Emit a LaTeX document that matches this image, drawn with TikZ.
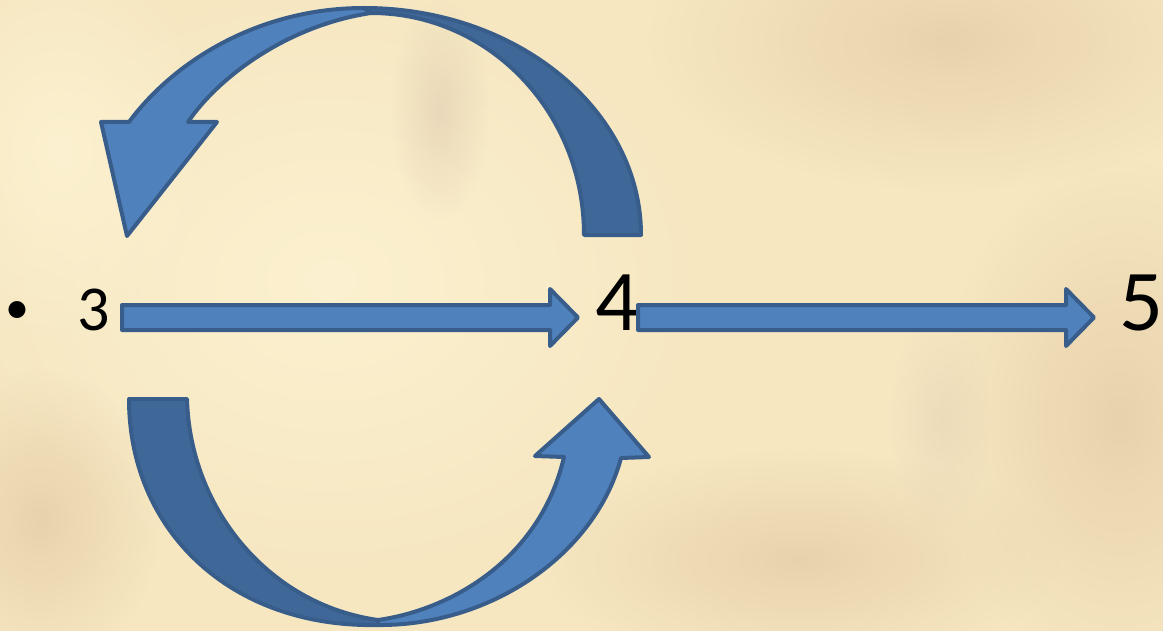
\documentclass[tikz,border=0pt]{standalone}
\usepackage{fontspec}
\setmainfont{Carlito}
\usetikzlibrary{fadings}
\tikzfading[name=softblob, inner color=transparent!0, outer color=transparent!100]
\definecolor{bgbase}{HTML}{F6E7C1}
\definecolor{bglight}{HTML}{FCF1D0}
\definecolor{bgtan}{HTML}{E8D2AC}
\definecolor{bgmauve}{HTML}{D8C2AA}
\definecolor{lightblue}{HTML}{4F81BD}
\definecolor{darkblue}{HTML}{3F6899}
\definecolor{edgeblue}{HTML}{385D8A}
\tikzset{
  lightpart/.style={fill=lightblue, draw=edgeblue, line width=3pt, line join=round},
  darkpart/.style={fill=darkblue, draw=edgeblue, line width=3pt, line join=round},
  blob/.style={path fading=softblob, fit fading=true},
  bigdigit/.style={anchor=base, inner sep=0pt, font=\fontsize{65}{70}\selectfont},
  smalldigit/.style={anchor=base, inner sep=0pt, font=\fontsize{48}{52}\selectfont},
  bulletmark/.style={anchor=base, inner sep=0pt, font=\fontsize{36}{40}\selectfont}
}
\begin{document}
\begin{tikzpicture}[x=0.75pt,y=-0.75pt]
\useasboundingbox (0,0) rectangle (1163,631);
% background
\fill[bgbase] (0,0) rectangle (1163,631);
\fill[bglight, blob] (330,280) ellipse (380 and 300);
\fill[bglight, blob] (60,150) ellipse (160 and 200);
\fill[bgtan, blob] (950,40) ellipse (300 and 150);
\fill[bgtan, blob] (1120,420) ellipse (180 and 260);
\fill[bgtan, blob] (40,520) ellipse (120 and 150);
\fill[bgtan, blob] (800,560) ellipse (260 and 110);
\fill[bgmauve, blob, opacity=0.45] (440,110) ellipse (50 and 110);
\fill[bgmauve, blob, opacity=0.3] (940,420) ellipse (50 and 110);

% text nodes
\node[bulletmark] (bul) at (17,323) {•};
\node[smalldigit] (n3) at (93.5,330) {3};
\node[bigdigit] (n4) at (617,330) {4};
\node[bigdigit] (n5) at (1141,330) {5};

% straight block arrows
\path[lightpart] (122,305) -- (550,305) -- (550,289) -- (578,317.5) -- (550,346) -- (550,330) -- (122,330) -- cycle;
\path[lightpart] (638,305) -- (1066,305) -- (1066,289) -- (1094,317.5) -- (1066,346) -- (1066,330) -- (638,330) -- cycle;

% top curved arrow: dark back part
\path[darkpart] (641,235) .. controls (641,110) and (517,8) .. (364,8)
  -- (371,13) .. controls (489,13) and (584,112) .. (584,235) -- cycle;
% top curved arrow: light front part with head
\path[lightpart] (364,8) .. controls (260,8) and (175,60) .. (129,122)
  -- (101,122) -- (127,236) -- (217,122) -- (188,122)
  .. controls (220,75) and (290,25) .. (371,13) -- cycle;

% bottom curved arrow: dark back part
\path[darkpart] (187,399) .. controls (190,510) and (270,605) .. (378,620)
  -- (378,625) .. controls (230,628) and (129,530) .. (129,399) -- cycle;
% bottom curved arrow: light front part with head
\path[lightpart] (378,625) .. controls (490,626) and (595,555) .. (621,458)
  -- (649,457) -- (599,399) -- (535,456) -- (564,457)
  .. controls (540,560) and (450,610) .. (378,620) -- cycle;
\end{tikzpicture}
\end{document}
